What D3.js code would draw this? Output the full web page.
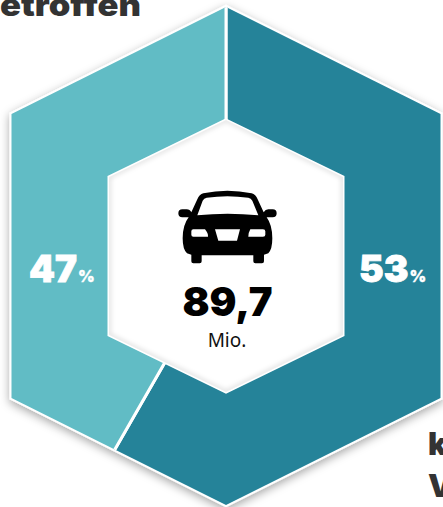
<!DOCTYPE html>
<html>
<head>
<meta charset="utf-8">
<script src="https://cdn.jsdelivr.net/npm/d3@7"></script>
<style>
    html, body { margin: 0; padding: 0; background: #fff; overflow: hidden; }
    svg { display: block; }
</style>
</head>
<body>
<div id="hex_plot"></div>
<script>
// values printed on the chart
var shareLabels = ["53", "47"];
var centerValue = "89,7";
var centerUnit = "Mio.";
// the slices in the picture are not drawn to scale, this is the sweep read off the picture
var sweepShares = [58.3, 41.7];
var sliceColors = ["#258399", "#61bcc5"];
// leftovers of the cropped captions
var captionLines = ["etroffen", "k", "V"];

var width = 443,
    height = 507;

var svg = d3.select("#hex_plot")
    .append("svg")
    .attr("width", width)
    .attr("height", height);

var defs = svg.append("defs");

var shadow = defs.append("filter")
    .attr("id", "hexShadow")
    .attr("x", "-10%").attr("y", "-10%")
    .attr("width", "120%").attr("height", "120%");
shadow.append("feDropShadow")
    .attr("dx", 0).attr("dy", 3)
    .attr("stdDeviation", 5)
    .attr("flood-color", "#000")
    .attr("flood-opacity", 0.35);

var glow = defs.append("filter")
    .attr("id", "innerGlow")
    .attr("x", "-10%").attr("y", "-10%")
    .attr("width", "120%").attr("height", "120%");
glow.append("feGaussianBlur")
    .attr("stdDeviation", 2.5);

var cx = 226,
    cy = 256;

// hexagon with pointy top, in pixels around the center
function hexPoints(halfW, halfH, side) {
    return [[0, -halfH], [halfW, -side], [halfW, side], [0, halfH], [-halfW, side], [-halfW, -side]];
}
var hexLine = d3.line().curve(d3.curveLinearClosed);

var outerHex = hexPoints(214.5, 249, 142);
var innerHex = hexPoints(117, 136, 79);

var g = svg.append("g")
    .attr("transform", "translate(" + cx + "," + cy + ")");

defs.append("clipPath")
    .attr("id", "hexClip")
    .append("path")
    .attr("d", hexLine(outerHex));

defs.append("clipPath")
    .attr("id", "innerClip")
    .append("path")
    .attr("d", hexLine(innerHex));

// white border + shadow
g.append("path")
    .attr("d", hexLine(outerHex))
    .attr("fill", "#fff")
    .attr("stroke", "#fff")
    .attr("stroke-width", 4)
    .attr("stroke-linejoin", "miter")
    .attr("filter", "url(#hexShadow)");

// slices, cut to the hexagon by the clip path
var pie = d3.pie().sort(null);
var arc = d3.arc().innerRadius(0).outerRadius(420);

g.append("g")
    .attr("clip-path", "url(#hexClip)")
    .selectAll("path")
    .data(pie(sweepShares))
    .enter()
    .append("path")
    .attr("d", arc)
    .attr("fill", function (d, i) { return sliceColors[i]; })
    .attr("stroke", "#fff")
    .attr("stroke-width", 3);

// center hexagon, the soft shadow sits inside of the white edge
g.append("path")
    .attr("d", hexLine(innerHex))
    .attr("fill", "#fff")
    .attr("stroke", "#fff")
    .attr("stroke-width", 3);

g.append("g")
    .attr("clip-path", "url(#innerClip)")
    .append("path")
    .attr("d", hexLine(innerHex))
    .attr("fill", "none")
    .attr("stroke", "#000")
    .attr("stroke-opacity", 0.16)
    .attr("stroke-width", 3)
    .attr("filter", "url(#innerGlow)");

// car icon, traced at 3x
var carPath = "M190 70 Q262 54 335 70 Q347 73 353 88 L371 127 Q376 118 385 118 L398 118 Q410 118 410 130 " +
    "Q410 142 398 142 L380 142 Q397 165 397 205 Q397 238 385 250 L372 254 L372 274 Q372 280 366 280 L346 280 " +
    "Q340 280 340 274 L340 256 L185 256 L185 274 Q185 280 179 280 L160 280 Q154 280 154 274 L154 254 L141 250 " +
    "Q128 238 128 205 Q128 165 146 142 L127 142 Q115 142 115 130 Q115 118 127 118 L140 118 Q150 118 154 127 " +
    "L172 88 Q178 73 190 70 Z " +
    "M172 136 Q262 126 355 136 L337 92 Q333 84 325 83 Q262 74 200 83 Q192 84 188 92 Z " +
    "M160 178 L195 178 Q205 190 204 200 L160 200 Q154 200 154 194 L154 184 Q154 178 160 178 Z " +
    "M331 178 L369 178 Q376 178 376 184 L376 194 Q376 200 369 200 L325 200 Q325 188 331 178 Z " +
    "M225 178 L300 178 L291 212 L235 212 Z";

svg.append("path")
    .attr("transform", "translate(140,170) scale(0.3333)")
    .attr("d", carPath)
    .attr("fill", "#000")
    .attr("fill-rule", "evenodd");

// center text
svg.append("text")
    .attr("x", 227.5)
    .attr("y", 316)
    .attr("text-anchor", "middle")
    .style("font-family", "Inter")
    .style("font-weight", 900)
    .style("font-size", "40px")
    .style("fill", "#000")
    .text(centerValue);

svg.append("text")
    .attr("x", 227)
    .attr("y", 347)
    .attr("text-anchor", "middle")
    .style("font-family", "'Noto Sans'")
    .style("font-size", "19px")
    .style("fill", "#111")
    .text(centerUnit);

// share labels
var labelX = [359, 29];
var shares = svg.selectAll("text.share")
    .data(shareLabels)
    .enter()
    .append("text")
    .attr("class", "share")
    .attr("x", function (d, i) { return labelX[i]; })
    .attr("y", 282)
    .style("font-family", "Inter")
    .style("font-weight", 900)
    .style("font-size", "37px")
    .style("fill", "#fff")
    .style("stroke", "#fff")
    .style("stroke-width", 0.8)
    .text(function (d) { return d; });
shares.append("tspan")
    .attr("dx", 1)
    .style("font-size", "16px")
    .style("stroke-width", 0.3)
    .text("%");

// cropped captions, the first one is stretched to the width in the picture
var captionX = [0, 428, 428],
    captionY = [16, 455, 497];
svg.selectAll("text.caption")
    .data(captionLines)
    .enter()
    .append("text")
    .attr("class", "caption")
    .attr("x", function (d, i) { return captionX[i]; })
    .attr("y", function (d, i) { return captionY[i]; })
    .attr("textLength", function (d, i) { return i == 0 ? 141 : null; })
    .attr("lengthAdjust", "spacingAndGlyphs")
    .style("font-family", "Inter")
    .style("font-weight", 900)
    .style("font-size", "31px")
    .style("fill", "#333")
    .text(function (d) { return d; });
</script>
</body>
</html>
